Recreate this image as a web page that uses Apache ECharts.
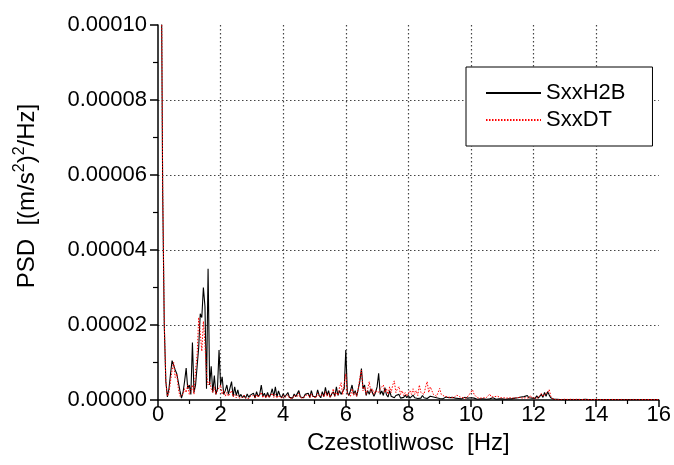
<!DOCTYPE html>
<html>
<head>
<meta charset="utf-8">
<script src="https://cdn.jsdelivr.net/npm/echarts@6/dist/echarts.min.js"></script>
<style>
html,body{margin:0;padding:0;background:#fff;}
#chart{width:674px;height:465px;}
</style>
</head>
<body>
<div id="chart"></div>
<script>
// Spectrum sampled every 0.05 Hz from 0 to 16 Hz; values in units of 1e-6 (m/s^2)^2/Hz
var freqStartHz = 0;
var freqStepHz = 0.05;
var seriesNames = ['SxxH2B', 'SxxDT'];
var xTicks = [0, 2, 4, 6, 8, 10, 12, 14, 16];
var yTicks = [0, 0.00002, 0.00004, 0.00006, 0.00008, 0.0001];

var sxxH2B = [
  900, 400, 125, 55, 20, 5, 0.8, 3, 7, 10.5, 11, 8, 7, 6.5, 2.5, 0.5, 2, 5, 8.5, 3,
  4, 1.5, 15.3, 2, 4, 9, 14, 23, 22, 30, 25, 3, 35, 4, 9, 2, 6.5, 1.5, 3, 13.3,
  4, 6.2, 1.5, 2.5, 4, 1.5, 2, 4.9, 1, 3.5, 1.2, 2.7, 0.8, 1.5, 0.6, 1.2, 0.5, 1.6, 0.7, 1.3,
  0.8, 1.8, 0.6, 2.2, 0.9, 1.5, 4, 1, 1.8, 0.7, 2, 0.8, 1.5, 3, 1, 3.5, 0.8, 2.4, 1.2, 0.6,
  1.7, 0.8, 1.4, 2, 0.7, 1.2, 0.5, 1.6, 0.9, 1.1, 2.5, 0.8, 1.3, 0.6, 1.5, 1, 1.8, 0.7, 2.5, 1,
  1.5, 0.8, 2.7, 1.2, 0.6, 2.2, 0.9, 3.4, 1.2, 2.5, 0.7, 1.6, 2.2, 1, 3.5, 1.2, 2.5, 1.5, 1, 3,
  13.3, 2, 1.2, 2.5, 4, 1.5, 2.5, 1, 3, 5, 8.4, 3, 4, 1.2, 2.5, 1.5, 3, 3.3, 1, 2,
  3.5, 7.1, 1.5, 2.4, 1.2, 3.3, 1.4, 0.8, 2.5, 1, 1.5, 0.6, 1.2, 0.9, 1.5, 0.5, 1, 0.7, 1.3, 0.6,
  1.2, 0.5, 0.9, 1.3, 0.6, 1, 0.4, 0.8, 0.5, 1.2, 0.6, 0.9, 0.4, 0.7, 1, 0.5, 0.8, 0.3, 0.6, 0.9,
  0.4, 0.7, 0.3, 0.5, 0.8, 0.3, 0.6, 0.4, 0.7, 0.3, 0.5, 0.8, 0.4, 0.6, 0.3, 0.5, 0.7, 0.3, 0.5, 0.4,
  0.6, 0.3, 0.5, 0.4, 0.2, 0.5, 0.3, 0.6, 0.3, 0.4, 0.2, 0.5, 0.3, 0.4, 0.6, 0.3, 0.2, 0.4, 0.3, 0.5,
  0.3, 0.4, 0.2, 0.5, 0.3, 0.6, 0.3, 0.4, 0.5, 0.3, 0.6, 0.4, 0.8, 0.4, 0.9, 0.5, 1.2, 0.6, 1, 0.5,
  0.7, 0.4, 1.1, 0.5, 0.8, 1.5, 0.7, 2, 1, 2.2, 1.3, 0.6, 0.3, 0.2, 0.15, 0.2, 0.1, 0.15, 0.2, 0.1,
  0.15, 0.1, 0.2, 0.1, 0.15, 0.1, 0.2, 0.1, 0.15, 0.1, 0.1, 0.15, 0.1, 0.2, 0.1, 0.1, 0.15, 0.1, 0.1, 0.15,
  0.1, 0.12, 0.1, 0.15, 0.1, 0.1, 0.12, 0.1, 0.15, 0.1, 0.1, 0.12, 0.1, 0.1, 0.15, 0.1, 0.12, 0.1, 0.1, 0.12,
  0.1, 0.1, 0.12, 0.1, 0.1, 0.15, 0.1, 0.1, 0.12, 0.1, 0.1, 0.1, 0.12, 0.1, 0.1, 0.1, 0.12, 0.1, 0.1, 0.1,
  0.1
];

var sxxDT = [
  900, 400, 128, 57, 21, 5, 1, 2, 5, 8, 10, 6, 7, 3, 1, 0.5, 1.5, 3, 2, 4,
  1.5, 2, 4, 1.5, 8, 12, 22, 18, 13, 21, 15, 7, 4, 5, 3, 2, 3.5, 1.5, 2.5, 2,
  4, 1.5, 2.5, 1, 2, 1, 1.8, 2.5, 0.8, 1.5, 0.6, 1.2, 0.5, 1, 0.7, 1.3, 0.5, 0.9, 0.4, 1,
  0.6, 1.2, 0.5, 1.5, 0.7, 1, 2, 0.6, 1.2, 0.5, 1.4, 0.6, 1, 1.8, 0.7, 1.5, 0.5, 1.2, 0.8, 0.5,
  1.2, 0.6, 1, 1.4, 0.5, 0.9, 0.4, 1.2, 0.7, 0.9, 1.8, 0.6, 1, 0.5, 1.2, 0.8, 1.4, 0.6, 1.6, 0.8,
  1.2, 0.6, 1.8, 1, 0.5, 1.5, 0.8, 2.2, 1, 1.8, 0.7, 1.4, 3, 1, 2, 1.2, 3.4, 4.6, 1.5, 2,
  7, 1.5, 2, 1, 3, 1.2, 2, 1, 3, 6, 8, 2.5, 3.5, 1.5, 3, 4.9, 2, 3, 1.5, 2.5,
  3, 2, 3, 2.5, 4, 2, 3, 1.5, 3.5, 2, 4, 5.1, 2, 3, 3.6, 1.5, 2.5, 1.2, 2, 1,
  1.8, 2.5, 1.5, 3, 1.5, 2.5, 1.2, 4, 2, 2.4, 1.5, 3.5, 4.9, 2, 3.5, 2.5, 1.5, 2, 1, 2,
  3.1, 1.5, 2, 1, 1.5, 0.8, 1.2, 0.7, 1, 0.6, 0.9, 1.3, 1.6, 0.8, 1.2, 0.6, 1, 0.5, 0.9, 1.5,
  1.2, 2.7, 1.5, 1, 0.6, 0.9, 0.5, 0.8, 0.6, 1, 0.7, 1.2, 1.6, 0.8, 0.6, 0.9, 0.5, 1, 1.3, 0.6,
  0.4, 0.6, 0.3, 0.5, 0.4, 0.6, 0.3, 0.5, 0.4, 0.6, 0.5, 0.7, 0.9, 0.5, 1, 0.6, 0.8, 0.5, 1.2, 0.6,
  0.9, 0.5, 1, 0.6, 1.2, 1.8, 0.9, 1.5, 1.4, 2, 2.8, 1, 0.4, 0.2, 0.15, 0.2, 0.1, 0.2, 0.15, 0.1,
  0.2, 0.1, 0.15, 0.1, 0.2, 0.1, 0.15, 0.1, 0.2, 0.1, 0.15, 0.1, 0.1, 0.2, 0.1, 0.15, 0.1, 0.1, 0.15, 0.1,
  0.15, 0.1, 0.1, 0.12, 0.1, 0.15, 0.1, 0.1, 0.12, 0.1, 0.15, 0.1, 0.1, 0.12, 0.1, 0.1, 0.15, 0.1, 0.1, 0.12,
  0.1, 0.12, 0.1, 0.1, 0.15, 0.1, 0.1, 0.12, 0.1, 0.1, 0.12, 0.1, 0.1, 0.1, 0.12, 0.1, 0.1, 0.12, 0.1, 0.1,
  0.1
];

function toPairs(vals) {
  return vals.map(function (v, i) {
    return [+(freqStartHz + i * freqStepHz).toFixed(2), v * 1e-6];
  });
}

var FONT = '"Liberation Sans", Arial, sans-serif';
var chart = echarts.init(document.getElementById('chart'), null, {renderer: 'canvas'});
chart.setOption({
  animation: false,
  backgroundColor: '#fff',
  textStyle: {fontFamily: FONT, color: '#000'},
  grid: {left: 158, right: 14, top: 25, bottom: 65, containLabel: false},
  graphic: [{
    type: 'text',
    x: 27,
    y: 196,
    rotation: Math.PI / 2,
    style: {
      text: 'PSD  [(m/s{sup|2}){sup|2}/Hz]',
      fontFamily: FONT,
      fontSize: 24,
      lineHeight: 30,
      fill: '#000',
      align: 'center',
      verticalAlign: 'middle',
      rich: {
        sup: {fontFamily: FONT, fontSize: 16, lineHeight: 14, verticalAlign: 'top', fill: '#000'}
      }
    }
  }],
  legend: {
    data: seriesNames,
    orient: 'vertical',
    left: 466,
    top: 67,
    padding: [15, 27, 15, 19],
    itemWidth: 55,
    itemHeight: 14,
    itemGap: 5,
    backgroundColor: '#fff',
    borderColor: '#000',
    borderWidth: 1,
    borderRadius: 0,
    itemStyle: {opacity: 0},
    textStyle: {fontFamily: FONT, fontSize: 22, color: '#000'}
  },
  xAxis: {
    type: 'value',
    min: xTicks[0],
    max: xTicks[xTicks.length - 1],
    interval: xTicks[1] - xTicks[0],
    name: 'Czestotliwosc  [Hz]',
    nameLocation: 'middle',
    nameGap: 29,
    nameTextStyle: {fontFamily: FONT, fontSize: 24, color: '#000'},
    axisLine: {show: true, onZero: false, lineStyle: {color: '#000', width: 1.5}},
    axisTick: {show: true, inside: false, length: 7, lineStyle: {color: '#000', width: 1.5}},
    minorTick: {show: true, splitNumber: 2, length: 4, lineStyle: {color: '#000', width: 1.2}},
    axisLabel: {fontFamily: FONT, fontSize: 22, color: '#000', margin: 4},
    splitLine: {show: true, showMinLine: false, showMaxLine: false, lineStyle: {color: '#444', type: [1.5, 2.5], width: 1.2}}
  },
  yAxis: {
    type: 'value',
    min: yTicks[0],
    max: yTicks[yTicks.length - 1],
    interval: yTicks[1] - yTicks[0],
    axisLine: {show: true, onZero: false, lineStyle: {color: '#000', width: 1.5}},
    axisTick: {show: true, inside: false, length: 8, lineStyle: {color: '#000', width: 1.5}},
    minorTick: {show: true, splitNumber: 2, length: 5, lineStyle: {color: '#000', width: 1.2}},
    axisLabel: {fontFamily: FONT, fontSize: 22, color: '#000', margin: 11,
      formatter: function (v) { return v.toFixed(5); }},
    splitLine: {show: true, showMinLine: false, showMaxLine: false, lineStyle: {color: '#444', type: [1.5, 2.5], width: 1.2}}
  },
  series: [
    {
      name: seriesNames[0],
      type: 'line',
      data: toPairs(sxxH2B),
      symbol: 'none',
      clip: true,
      lineStyle: {color: '#000', width: 1.1},
      itemStyle: {color: '#000'},
      z: 2
    },
    {
      name: seriesNames[1],
      type: 'line',
      data: toPairs(sxxDT),
      symbol: 'none',
      clip: true,
      lineStyle: {color: '#ff0000', width: 1, type: [1.5, 1.5]},
      itemStyle: {color: '#ff0000'},
      z: 3
    }
  ]
});
</script>
</body>
</html>
